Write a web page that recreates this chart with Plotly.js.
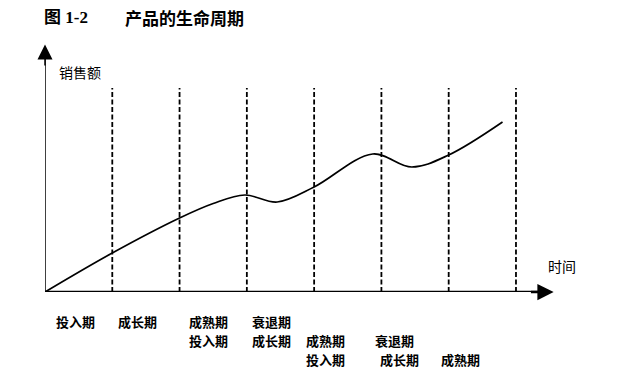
<!DOCTYPE html>
<html><head><meta charset="utf-8">
<script src="https://cdn.plot.ly/plotly-3.0.1.min.js"></script>
<style>body{margin:0;background:#fff}#c{width:626px;height:381px}</style>
</head><body><div id="c"></div>
<script>
// time (phase units) and sales values
const timeX = [0, 1, 2, 2.5, 2.97, 3.45, 4.0, 4.87, 5.45, 6.0, 6.8];
const sales = [0, 15.6, 29.6, 35.4, 38.8, 36.0, 42.0, 55.2, 50.0, 54.8, 68.0];
const boundaries = [1, 2, 3, 4, 5, 6, 7];
const row1 = ["投入期", "成长期", "成熟期", "衰退期"];
const row1X = [0.45, 1.37, 2.43, 3.37];
const row2 = ["投入期", "成长期", "成熟期", "衰退期"];
const row2X = [2.43, 3.37, 4.17, 5.19];
const row3 = ["投入期", "成长期", "成熟期"];
const row3X = [4.17, 5.27, 6.17];
const titleNum = "图 1-2";
const titleText = "产品的生命周期";
const yLabel = "销售额";
const xLabel = "时间";

const XMAX = 7.58, YMAX = 100;
const cjk = '"Noto Sans CJK SC", sans-serif';
const shapes = boundaries.map(b => ({
  type: 'line', xref: 'x', yref: 'y', x0: b, x1: b, y0: 0, y1: 81.6,
  line: {color: '#000', width: 1.8, dash: '5px,2.5px'}
}));
shapes.push({type:'line', xref:'x', yref:'y', x0:0, x1:0, y0:0, y1:95, line:{color:'#000', width:1.5}});
shapes.push({type:'line', xref:'x', yref:'y', x0:0, x1:7.45, y0:0, y1:0, line:{color:'#000', width:2.5}});

const px = p => (p - 45) / 510;   // pixel x -> paper
const py = p => (292 - p) / 250;  // pixel y -> paper
const ann = [];
function addRow(labels, xs, y) {
  labels.forEach((t, i) => ann.push({
    text: '<b>' + t + '</b>', x: xs[i], xref: 'x', y: py(y), yref: 'paper',
    showarrow: false, xanchor: 'center', yanchor: 'middle',
    font: {family: cjk, size: 13, color: '#000'}
  }));
}
addRow(row1, row1X, 321);
addRow(row2, row2X, 340);
addRow(row3, row3X, 359);
// arrow heads
ann.push({x: XMAX - 0.02, y: 0, xref: 'x', yref: 'y', ax: 7.2, ay: 0, axref: 'x', ayref: 'y',
  showarrow: true, arrowhead: 2, arrowsize: 1.3, arrowwidth: 2.5, arrowcolor: '#000', text: ''});
ann.push({x: 0, y: 99, xref: 'x', yref: 'y', ax: 0, ay: 90, axref: 'x', ayref: 'y',
  showarrow: true, arrowhead: 2, arrowsize: 2, arrowwidth: 1.5, arrowcolor: '#000', text: ''});
ann.push({text: yLabel, x: px(57), xref: 'paper', y: py(72), yref: 'paper',
  showarrow: false, xanchor: 'left', yanchor: 'middle', font: {family: cjk, size: 14, color: '#000'}});
ann.push({text: xLabel, x: px(546), xref: 'paper', y: py(266), yref: 'paper',
  showarrow: false, xanchor: 'left', yanchor: 'middle', font: {family: cjk, size: 14, color: '#000'}});
ann.push({text: '<b>' + titleNum + '</b>', x: px(42), xref: 'paper', y: py(18), yref: 'paper',
  showarrow: false, xanchor: 'left', yanchor: 'middle',
  font: {family: '"Liberation Serif", "Noto Sans CJK SC", serif', size: 17, color: '#000'}});
ann.push({text: titleText, x: px(123), xref: 'paper', y: py(18), yref: 'paper',
  showarrow: false, xanchor: 'left', yanchor: 'middle',
  font: {family: cjk, size: 17, color: '#000', weight: 600}});

Plotly.newPlot('c', [{
  x: timeX, y: sales, type: 'scatter', mode: 'lines',
  line: {shape: 'spline', smoothing: 1, color: '#000', width: 1.7}, hoverinfo: 'skip'
}], {
  width: 626, height: 381,
  margin: {l: 45, r: 71, t: 42, b: 89},
  paper_bgcolor: '#fff', plot_bgcolor: '#fff', showlegend: false,
  xaxis: {range: [0, XMAX], visible: false, fixedrange: true},
  yaxis: {range: [0, YMAX], visible: false, fixedrange: true},
  shapes: shapes, annotations: ann
}, {staticPlot: true});
</script></body></html>
